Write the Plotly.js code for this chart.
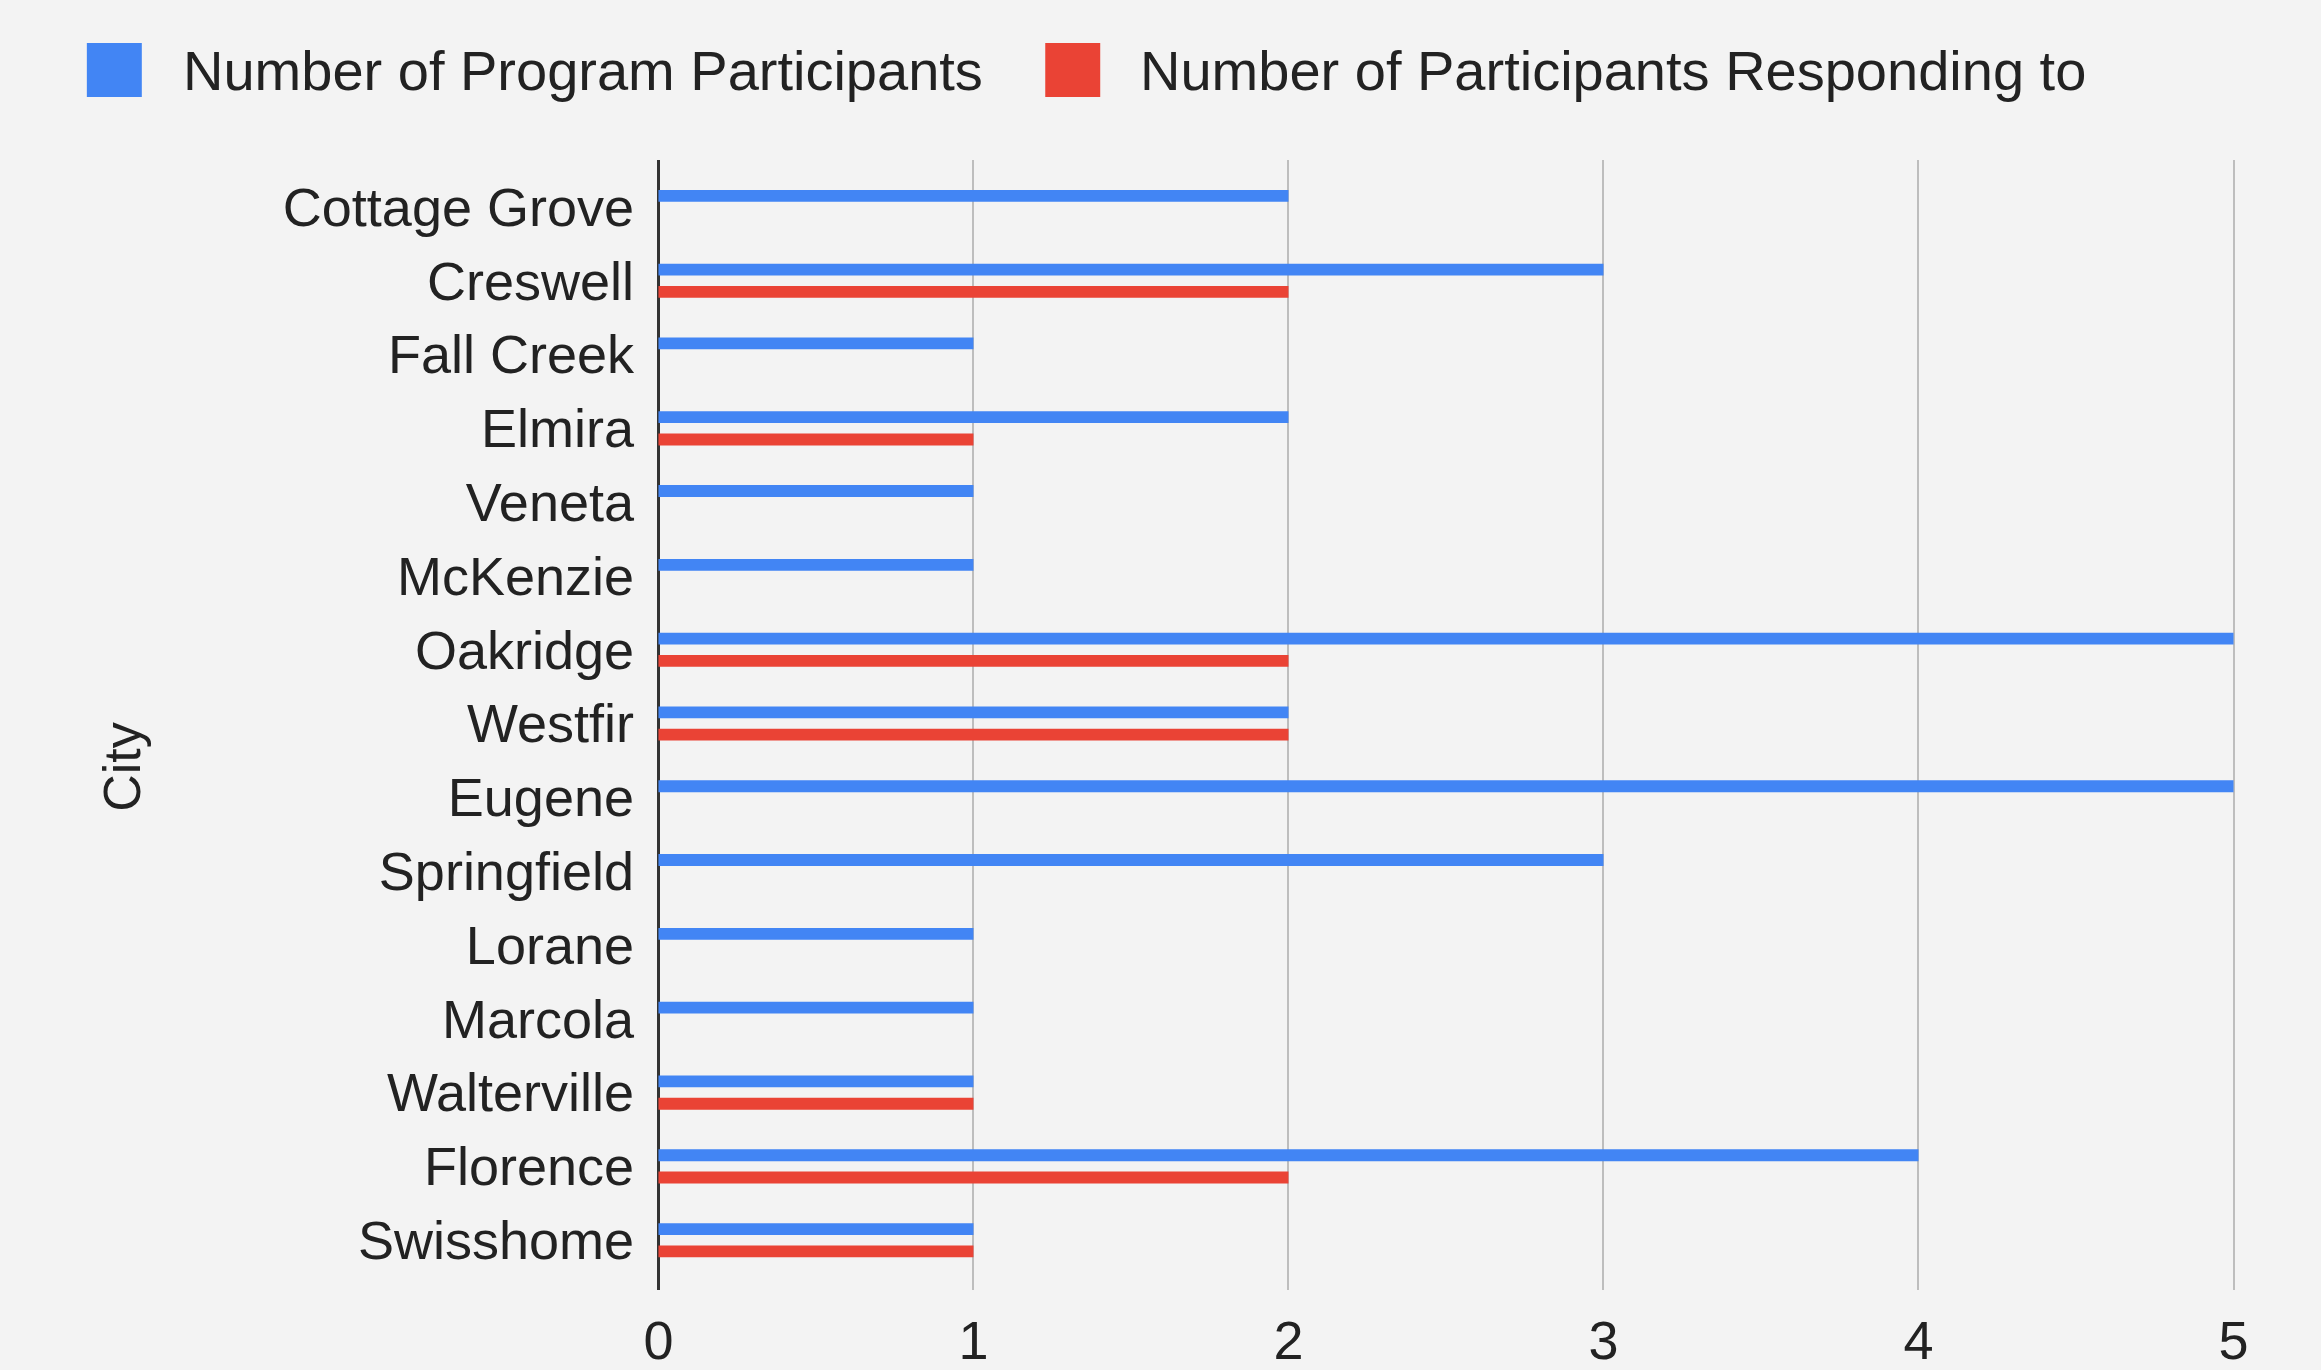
<!DOCTYPE html>
<html>
<head>
<meta charset="utf-8">
<script src="https://cdn.plot.ly/plotly-3.0.1.min.js"></script>
<style>
html,body{margin:0;padding:0;background:#f3f3f3;}
#chart{width:2321px;height:1370px;}
</style>
</head>
<body>
<div id="chart"></div>
<script>
const cities = ["Cottage Grove","Creswell","Fall Creek","Elmira","Veneta","McKenzie","Oakridge","Westfir","Eugene","Springfield","Lorane","Marcola","Walterville","Florence","Swisshome"];
const participants = [2,3,1,2,1,1,5,2,5,3,1,1,1,4,1];
const responding = [0,2,0,1,0,0,2,2,0,0,0,0,1,2,1];
const seriesNames = ["Number of Program Participants","Number of Participants Responding to"];
const seriesColors = ["#4285F4","#EA4335"];
const xTicks = [0,1,2,3,4,5];
const yTitle = "City";

const W = 2321, H = 1370;
const font = "Liberation Sans, Arial, sans-serif";
const L = 648.5, R = 2265.5, T = 160, B = 1290;
const px = v => (v - L) / (R - L);
const py = v => (B - v) / (B - T);

const traces = [
  {type:"bar", orientation:"h", y:cities, x:participants, name:seriesNames[0], marker:{color:seriesColors[0]}, hoverinfo:"x+y"},
  {type:"bar", orientation:"h", y:cities, x:responding, name:seriesNames[1], marker:{color:seriesColors[1]}, hoverinfo:"x+y"}
];

// legend drawn as shapes + annotations (large swatches)
const legendItems = [{sx:86, tx:180},{sx:1045, tx:1138}];
const shapes = [], annotations = [];
legendItems.forEach((it,i)=>{
  shapes.push({type:"rect", xref:"paper", yref:"paper", layer:"above",
    x0:px(it.sx), x1:px(it.sx+55), y0:py(70-27), y1:py(70+27),
    fillcolor:seriesColors[i], line:{width:0}});
  annotations.push({xref:"paper", yref:"paper", x:px(it.tx), y:py(70),
    xanchor:"left", yanchor:"middle", text:seriesNames[i], showarrow:false,
    font:{family:font, size:56, color:"#222"}});
});
annotations.push({xref:"paper", yref:"paper", x:px(121), y:py(767), textangle:-90,
  xanchor:"center", yanchor:"middle", text:yTitle, showarrow:false,
  font:{family:font, size:52, color:"#222"}});

const layout = {
  width:W, height:H,
  paper_bgcolor:"#f3f3f3", plot_bgcolor:"#f3f3f3",
  margin:{l:L, r:W-R, t:T, b:H-B},
  showlegend:false,
  barmode:"group",
  bargap:0.396,
  bargroupgap:0.47,
  font:{family:font, size:54, color:"#222"},
  xaxis:{
    range:[-0.03, 5.1],
    tickvals:xTicks, ticktext:xTicks.map(String),
    showgrid:true, gridcolor:"#bdbdbd", gridwidth:2,
    zeroline:true, zerolinecolor:"#333", zerolinewidth:3,
    showline:false, ticks:"",
    ticklabelstandoff:14,
    tickfont:{family:font, size:54, color:"#222"}
  },
  yaxis:{
    type:"category",
    range:[14.675, -0.636],
    showgrid:false, zeroline:false, showline:false, ticks:"",
    ticklabelstandoff:14,
    tickfont:{family:font, size:54, color:"#222"}
  },
  shapes:shapes,
  annotations:annotations
};

Plotly.newPlot("chart", traces, layout, {displayModeBar:false, staticPlot:true});
</script>
</body>
</html>
